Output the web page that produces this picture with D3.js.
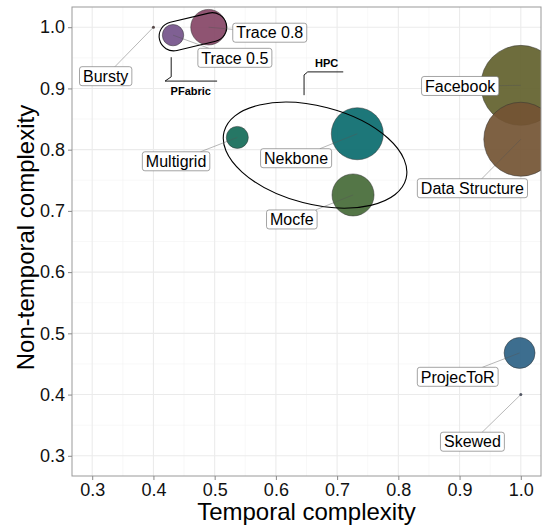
<!DOCTYPE html>
<html>
<head>
<meta charset="utf-8">
<script src="https://cdn.jsdelivr.net/npm/d3@7"></script>
<style>
  body { margin: 0; background: #fff; }
  svg { font-family: "Liberation Sans", Arial, sans-serif; }
</style>
</head>
<body>
<svg id="chart" width="546" height="525"></svg>
<script>
// Workloads
const names = ["Bursty", "Trace 0.5", "Trace 0.8", "Multigrid", "Nekbone", "Mocfe",
               "Facebook", "Data Structure", "ProjecToR", "Skewed"];
const temporal = [0.40, 0.432, 0.49, 0.537, 0.733, 0.726, 1.0, 1.0, 0.998, 1.0];
const nonTemporal = [1.0, 0.987, 1.0, 0.82, 0.826, 0.726, 0.905, 0.817, 0.468, 0.40];
const sizes = [0, 5.7, 17.9, 6.1, 40.5, 25.7, 100, 85, 13.2, 0];
const colors = ["#4a3a3a", "#74538a", "#854566", "#146b58", "#0a6b6e", "#456a37",
                "#62612c", "#735433", "#2d6285", "#444a58"];
// where the repelled labels ended up (data units)
const labelX = [0.322, 0.533, 0.590, 0.437, 0.633, 0.626, 0.901, 0.921, 0.897, 0.921];
const labelY = [0.920, 0.950, 0.991, 0.781, 0.786, 0.686, 0.904, 0.737, 0.429, 0.323];

const ticks = [0.3, 0.4, 0.5, 0.6, 0.7, 0.8, 0.9, 1.0];
const minorTicks = [0.35, 0.45, 0.55, 0.65, 0.75, 0.85, 0.95];

// group marks
const hpcEllipse = { cx: 0.664, cy: 0.791, rx: 0.1535, ry: 0.080, angle: 14.5 };
const pfabricHull = [[0.433, 0.985], [0.496, 1.0]];
const pfabricConnector = [[0.429, 0.951], [0.429, 0.919], [0.419, 0.912], [0.504, 0.912]];
const hpcConnector = [[0.646, 0.889], [0.646, 0.922], [0.652, 0.927], [0.710, 0.927]];
const groupLabels = [{ text: "PFabric", x: 0.461, y: 0.896 }, { text: "HPC", x: 0.683, y: 0.942 }];

const panel = { left: 72, top: 7, right: 541, bottom: 476 };
const svg = d3.select("#chart");

const x = d3.scaleLinear().domain([0.267, 1.033]).range([panel.left, panel.right]);
const y = d3.scaleLinear().domain([0.267, 1.033]).range([panel.bottom, panel.top]);
const r = d3.scaleSqrt().domain([0, 100]).range([1.5, 40]);

// clip to panel
svg.append("defs").append("clipPath").attr("id", "clip")
   .append("rect")
   .attr("x", panel.left).attr("y", panel.top)
   .attr("width", panel.right - panel.left).attr("height", panel.bottom - panel.top);

// Gridlines
const grid = svg.append("g");
grid.selectAll(".minx").data(minorTicks).enter().append("line")
    .attr("x1", d => x(d)).attr("x2", d => x(d))
    .attr("y1", panel.top).attr("y2", panel.bottom)
    .attr("stroke", "#f4f4f4").attr("stroke-width", 0.6);
grid.selectAll(".miny").data(minorTicks).enter().append("line")
    .attr("y1", d => y(d)).attr("y2", d => y(d))
    .attr("x1", panel.left).attr("x2", panel.right)
    .attr("stroke", "#f4f4f4").attr("stroke-width", 0.6);
grid.selectAll(".majx").data(ticks).enter().append("line")
    .attr("x1", d => x(d)).attr("x2", d => x(d))
    .attr("y1", panel.top).attr("y2", panel.bottom)
    .attr("stroke", "#ebebeb").attr("stroke-width", 1.1);
grid.selectAll(".majy").data(ticks).enter().append("line")
    .attr("y1", d => y(d)).attr("y2", d => y(d))
    .attr("x1", panel.left).attr("x2", panel.right)
    .attr("stroke", "#ebebeb").attr("stroke-width", 1.1);

const plot = svg.append("g").attr("clip-path", "url(#clip)");

// Points
const data = names.map((n, i) => ({
    name: n, tx: temporal[i], ny: nonTemporal[i], size: sizes[i],
    color: colors[i], lx: labelX[i], ly: labelY[i]
}));

plot.selectAll(".dot")
    .data(data)
    .enter()
    .append("circle")
    .attr("cx", d => x(d.tx))
    .attr("cy", d => y(d.ny))
    .attr("r", d => r(d.size))
    .attr("fill", d => d.color)
    .attr("fill-opacity", 0.92)
    .attr("stroke", "#333")
    .attr("stroke-width", d => d.size > 0 ? 0.5 : 0);

// HPC ellipse
plot.append("ellipse")
    .attr("cx", x(hpcEllipse.cx))
    .attr("cy", y(hpcEllipse.cy))
    .attr("rx", x(hpcEllipse.cx + hpcEllipse.rx) - x(hpcEllipse.cx))
    .attr("ry", y(hpcEllipse.cy) - y(hpcEllipse.cy + hpcEllipse.ry))
    .attr("transform", `rotate(${hpcEllipse.angle},${x(hpcEllipse.cx)},${y(hpcEllipse.cy)})`)
    .attr("fill", "none")
    .attr("stroke", "#000")
    .attr("stroke-width", 1.1);

// PFabric hull (stadium around the two traces)
const expand = 14.5;
const p1 = [x(pfabricHull[0][0]), y(pfabricHull[0][1])];
const p2 = [x(pfabricHull[1][0]), y(pfabricHull[1][1])];
const dx = p2[0] - p1[0], dy = p2[1] - p1[1];
const len = Math.hypot(dx, dy);
const nx = -dy / len * expand, ny = dx / len * expand;
plot.append("path")
    .attr("d", `M${p1[0] + nx},${p1[1] + ny} L${p2[0] + nx},${p2[1] + ny}
                A${expand},${expand} 0 0 0 ${p2[0] - nx},${p2[1] - ny}
                L${p1[0] - nx},${p1[1] - ny}
                A${expand},${expand} 0 0 0 ${p1[0] + nx},${p1[1] + ny} Z`)
    .attr("fill", "none")
    .attr("stroke", "#000")
    .attr("stroke-width", 1.1);

// group connectors and labels
const connLine = d3.line().x(d => x(d[0])).y(d => y(d[1]));
[pfabricConnector, hpcConnector].forEach(c => {
    plot.append("path")
        .attr("d", connLine(c))
        .attr("fill", "none")
        .attr("stroke", "#000")
        .attr("stroke-width", 0.9);
});
plot.selectAll(".glabel")
    .data(groupLabels)
    .enter()
    .append("text")
    .attr("x", d => x(d.x))
    .attr("y", d => y(d.y))
    .attr("dy", "0.35em")
    .attr("text-anchor", "middle")
    .attr("font-size", "11px")
    .attr("font-weight", "bold")
    .attr("fill", "#000")
    .text(d => d.text);

// Labels (ggrepel style)
const labelG = svg.append("g");
const boxes = data.map(d => {
    const t = labelG.append("text")
        .attr("font-size", "16px")
        .text(d.name);
    const w = t.node().getComputedTextLength() + 7;
    const h = 19;
    t.remove();
    return { d, w, h, cx: x(d.lx), cy: y(d.ly) };
});

// segments from points to box edge
boxes.forEach(b => {
    const px = x(b.d.tx), py = y(b.d.ny);
    const ddx = px - b.cx, ddy = py - b.cy;
    const s = Math.min(
        ddx !== 0 ? (b.w / 2) / Math.abs(ddx) : Infinity,
        ddy !== 0 ? (b.h / 2) / Math.abs(ddy) : Infinity
    );
    if (s >= 1) return;
    labelG.append("line")
        .attr("x1", px).attr("y1", py)
        .attr("x2", b.cx + ddx * s).attr("y2", b.cy + ddy * s)
        .attr("stroke", "#555")
        .attr("stroke-opacity", 0.7)
        .attr("stroke-width", 0.6);
});

boxes.forEach(b => {
    labelG.append("rect")
        .attr("x", b.cx - b.w / 2).attr("y", b.cy - b.h / 2)
        .attr("width", b.w).attr("height", b.h)
        .attr("rx", 2.5)
        .attr("fill", "#fff")
        .attr("stroke", "#666")
        .attr("stroke-width", 0.6);
    labelG.append("text")
        .attr("x", b.cx)
        .attr("y", b.cy)
        .attr("dy", "0.36em")
        .attr("text-anchor", "middle")
        .attr("font-size", "16px")
        .attr("fill", "#000")
        .text(b.d.name);
});

// Panel border
svg.append("rect")
   .attr("x", panel.left).attr("y", panel.top)
   .attr("width", panel.right - panel.left).attr("height", panel.bottom - panel.top)
   .attr("fill", "none").attr("stroke", "#999").attr("stroke-width", 1);

// Axes
const xAxis = svg.append("g")
    .attr("transform", `translate(0,${panel.bottom})`)
    .call(d3.axisBottom(x).tickValues(ticks).tickFormat(d3.format(".1f")).tickSize(4).tickPadding(3));
const yAxis = svg.append("g")
    .attr("transform", `translate(${panel.left},0)`)
    .call(d3.axisLeft(y).tickValues(ticks).tickFormat(d3.format(".1f")).tickSize(4).tickPadding(3));
[xAxis, yAxis].forEach(a => {
    a.select(".domain").remove();
    a.selectAll(".tick line").attr("stroke", "#888");
    a.selectAll(".tick text")
     .attr("font-size", "18px")
     .attr("font-family", "Liberation Sans, Arial, sans-serif")
     .attr("fill", "#111");
});

// Axis titles
svg.append("text")
   .attr("x", (panel.left + panel.right) / 2)
   .attr("y", 520)
   .attr("text-anchor", "middle")
   .attr("font-size", "24px")
   .attr("fill", "#000")
   .text("Temporal complexity");

svg.append("text")
   .attr("transform", `translate(34,${(panel.top + panel.bottom) / 2 - 4}) rotate(-90)`)
   .attr("text-anchor", "middle")
   .attr("font-size", "24px")
   .attr("fill", "#000")
   .text("Non-temporal complexity");
</script>
</body>
</html>
